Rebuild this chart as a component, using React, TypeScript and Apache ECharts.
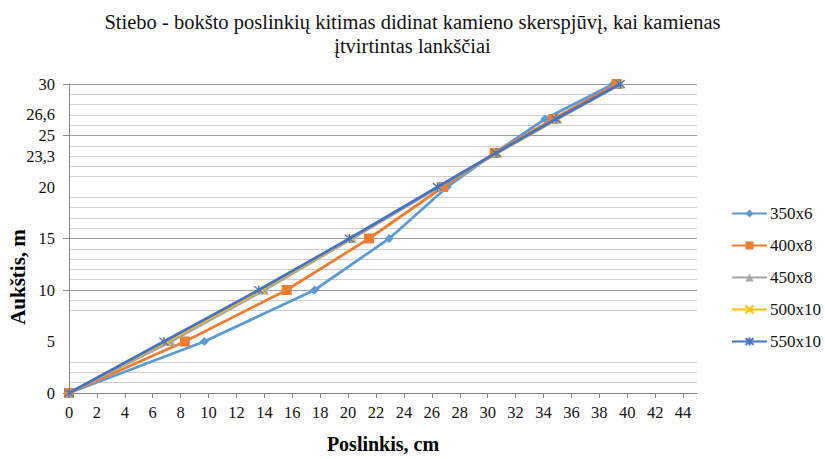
import React, { useEffect, useRef } from "react";
import * as echarts from "echarts";

// ---- data ----
const seriesNames = ["350x6", "400x8", "450x8", "500x10", "550x10"];
const heights = [0, 5, 10, 15, 20, 23.3, 26.6, 30];
const disp350x6 = [0, 9.7, 17.6, 22.95, 27.1, 30.5, 34.1, 39.0];
const disp400x8 = [0, 8.3, 15.6, 21.5, 26.8, 30.5, 34.7, 39.25];
const disp450x8 = [0, 7.3, 14.0, 20.3, 26.5, 30.7, 35.0, 39.5];
const disp500x10 = [0, 7.0, 13.8, 20.2, 26.4, 30.7, 35.0, 39.5];
const disp550x10 = [0, 6.8, 13.6, 20.1, 26.4, 30.6, 34.9, 39.5];

const xTickValues = [0, 2, 4, 6, 8, 10, 12, 14, 16, 18, 20, 22, 24, 26, 28, 30, 32, 34, 36, 38, 40, 42, 44];
const yLabelValues = [0, 5, 10, 15, 20, 23, 25, 27, 30];
const yLabelTexts = ["0", "5", "10", "15", "20", "23,3", "25", "26,6", "30"];
const yMajorTicks = [0, 10, 15, 25, 30];
const yHiddenGridLines = [0, 4, 5, 6, 7, 20];

const titleText =
  "Stiebo - bokšto poslinkių kitimas didinat kamieno skerspjūvį, kai kamienas\nįtvirtintas lankščiai";
const xName = "Poslinkis, cm";
const yName = "Aukštis, m";

const colors = ["#5B9BD5", "#ED7D31", "#A5A5A5", "#FFC000", "#4472C4"];
const FONT = "'Liberation Serif', 'Times New Roman', serif";

const crossPath = "path://M0,0L10,10M10,0L0,10";
const starPath = "path://M0,0L10,10M10,0L0,10M5,-1L5,11";

function buildGridColors(): string[] {
  const out: string[] = [];
  for (let v = 0; v <= 30; v++) {
    if (yHiddenGridLines.includes(v)) out.push("rgba(0,0,0,0)");
    else if (yMajorTicks.includes(v)) out.push("#9a9a9a");
    else out.push("#cfcfcf");
  }
  return out;
}

function pairs(xs: number[]): number[][] {
  return xs.map((x, i) => [x, heights[i]]);
}

export default function App() {
  const ref = useRef<HTMLDivElement>(null);
  useEffect(() => {
    if (!ref.current) return;
    const chart = echarts.init(ref.current, undefined, { renderer: "svg" });
    const allData = [disp350x6, disp400x8, disp450x8, disp500x10, disp550x10];
    const symbols = ["diamond", "rect", "triangle", crossPath, starPath];
    const symbolSizes = [9, 10, 9, 8, 9];
    const series = seriesNames.map((name, i) => {
      const lineOnly = i >= 3;
      return {
        name,
        type: "line",
        data: pairs(allData[i]),
        symbol: symbols[i],
        symbolSize: symbolSizes[i],
        showAllSymbol: true,
        lineStyle: { color: colors[i], width: i === 3 ? 2 : 2.75 },
        itemStyle: lineOnly
          ? { color: colors[i], borderColor: colors[i], borderWidth: 1.2 }
          : { color: colors[i], borderWidth: 0 },
        emphasis: { disabled: true },
        z: 2 + i,
      };
    });
    chart.setOption({
      animation: false,
      color: colors,
      textStyle: { fontFamily: FONT },
      title: {
        text: titleText,
        left: "center",
        top: 10,
        padding: 0,
        textStyle: {
          fontFamily: FONT,
          fontSize: 20.5,
          fontWeight: "normal",
          color: "#111",
          lineHeight: 24,
        },
      },
      legend: {
        orient: "vertical",
        left: 731,
        top: 205,
        itemWidth: 35,
        itemHeight: 10,
        itemGap: 15,
        padding: 0,
        textStyle: { fontFamily: FONT, fontSize: 17, color: "#111", lineHeight: 16, padding: [0, 0, 0, -2] },
        data: seriesNames,
      },
      grid: { left: 69, right: 128, top: 84, bottom: 58 },
      xAxis: {
        type: "value",
        min: 0,
        max: 45,
        interval: 2,
        name: xName,
        nameLocation: "middle",
        nameGap: 41,
        nameTextStyle: { fontFamily: FONT, fontSize: 20, fontWeight: "bold", color: "#000" },
        axisLine: { show: true, lineStyle: { color: "#868686", width: 1 } },
        axisTick: { show: true, customValues: xTickValues, length: 5, lineStyle: { color: "#868686" } },
        axisLabel: {
          customValues: xTickValues,
          margin: 11,
          fontFamily: FONT,
          fontSize: 16.5,
          color: "#111",
        },
        splitLine: { show: false },
      },
      yAxis: [
        {
          type: "value",
          min: 0,
          max: 30,
          interval: 1,
          axisLine: { show: true, lineStyle: { color: "#868686", width: 1 } },
          axisTick: { show: false },
          axisLabel: { show: false },
          splitLine: { show: true, lineStyle: { color: buildGridColors(), width: 1 } },
        },
        {
          type: "value",
          position: "left",
          min: 0,
          max: 30,
          interval: 1,
          axisLine: { show: false },
          splitLine: { show: false },
          axisTick: { show: true, customValues: yMajorTicks, length: 6, lineStyle: { color: "#868686" } },
          axisLabel: {
            customValues: yLabelValues,
            margin: 14,
            fontFamily: FONT,
            fontSize: 16.5,
            color: "#111",
            formatter: (v: number) => {
              const idx = yLabelValues.findIndex((t) => Math.abs(t - v) < 1e-6);
              return idx >= 0 ? yLabelTexts[idx] : "";
            },
          },
        },
      ],
      graphic: [
        {
          type: "text",
          x: 18,
          y: 277,
          rotation: Math.PI / 2,
          style: {
            text: yName,
            fontFamily: FONT,
            fontSize: 21,
            fontWeight: "bold",
            fill: "#000",
            align: "center",
            verticalAlign: "middle",
          },
        },
      ],
      series,
    });
    return () => chart.dispose();
  }, []);
  return (
    <div
      ref={ref}
      style={{ position: "fixed", left: 0, top: 0, width: 825, height: 459, background: "#fff" }}
    />
  );
}
